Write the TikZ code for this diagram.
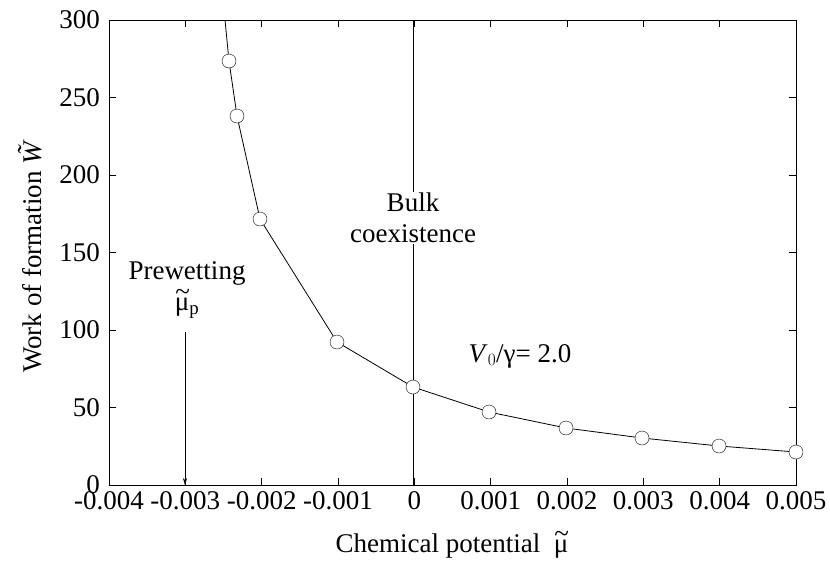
\documentclass[tikz,border=0pt]{standalone}
\usepackage{fontspec}
\setmainfont{Liberation Serif}
\usetikzlibrary{arrows.meta}
\newcommand{\tmu}{\leavevmode\rlap{\raisebox{0.38em}{\kern0.02em\textasciitilde}}μ}
\begin{document}
\begin{tikzpicture}[x=1pt,y=-1pt,every node/.style={font=\fontsize{27}{31}\selectfont},
  pt/.style={circle,draw,fill=white,inner sep=0pt,minimum size=14pt}]
\useasboundingbox (0,0) rectangle (830,563);
% frame
\draw[line width=0.8pt] (109,20) rectangle (796,485);
\foreach \i/\l in {-4/-0.004,-3/-0.003,-2/-0.002,-1/-0.001,0/0,1/0.001,2/0.002,3/0.003,4/0.004,5/0.005}{
  \pgfmathsetmacro\xx{109+76.33*(\i+4)}
  \draw (\xx,485) -- (\xx,478);
  \draw (\xx,20) -- (\xx,27);
  \node[anchor=north,inner sep=0pt] at (\xx,491) {\l};
}
\foreach \v in {0,50,...,300}{
  \pgfmathsetmacro\yy{485-1.55*\v}
  \draw (109,\yy) -- (116,\yy);
  \draw (796,\yy) -- (789,\yy);
  \node[anchor=east,inner sep=0pt] at (100,\yy) {\v};
}
\node (xl) at (452,545) {Chemical potential \ \tmu};
\node[rotate=90] (yl) at (30,252) {Work of formation \textit{\~W}};
% bulk coexistence line
\coordinate (b0) at (413,485); \coordinate (b1) at (413,20);
\draw (b0) -- (b1);
\node[align=center,fill=white,inner sep=1pt] (bulk) at (413,218) {Bulk\\coexistence};
% prewetting
\node[align=center] (pw) at (187,290) {Prewetting\\\tmu$_{\mathrm{p}}$};
\coordinate (a0) at (185,332); \coordinate (a1) at (185,485);
\draw[-{Stealth[length=7pt,width=4pt]},line width=0.4pt] (a0) -- (a1);
\node (lab) at (520,356) {\textit{V}$_0$/γ= 2.0};
% curve
\coordinate (c0) at (225,20);
\draw[line width=0.8pt] (c0) -- (229,61) -- (237,116) -- (260,219) -- (337,342) -- (413,387) -- (489,412) -- (566,428) -- (642,438) -- (719,446) -- (796,452);
\foreach \x/\y [count=\k] in {229/61,237/116,260/219,337/342,413/387,489/412,566/428,642/438,719/446,796/452}
  \node[pt] (p\k) at (\x,\y) {};
\end{tikzpicture}
\end{document}
